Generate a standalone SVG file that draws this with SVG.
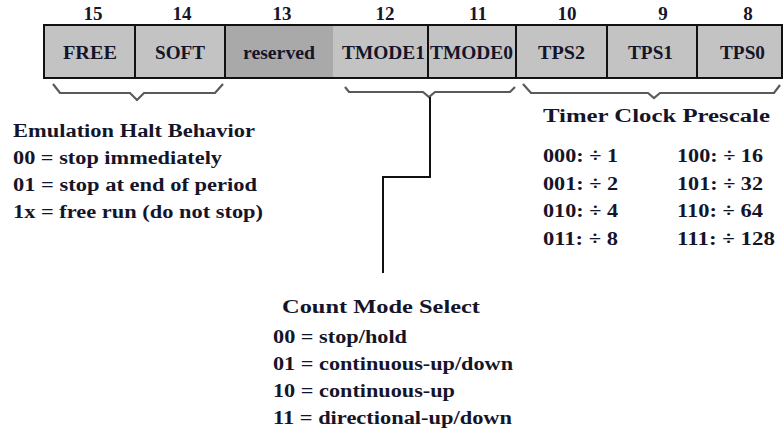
<svg xmlns="http://www.w3.org/2000/svg" width="783" height="432" viewBox="0 0 783 432">
  <style>
    .t { font-family: "Liberation Serif", "Times New Roman", serif; font-weight: bold; fill: #15152a; }
    .bit { font-size: 19px; text-anchor: middle; }
    .fld { font-size: 18px; }
    .txt { font-size: 18px; }
    .cell { fill: #c3c3c3; stroke: none; }
    .rsv { fill: #a9a9a9; stroke: none; }
    .div { stroke: #111; stroke-width: 2; fill: none; }
    .brace { stroke: #5a5a5a; stroke-width: 2.2; fill: none; stroke-linejoin: miter; }
    .lead { stroke: #111; stroke-width: 2; fill: none; }
  </style>
  <rect width="783" height="432" fill="#ffffff"/>

  <!-- bit numbers -->
  <g id="bit-numbers" class="t bit">
    <text x="93" y="20">15</text>
    <text x="182" y="20">14</text>
    <text x="282" y="20">13</text>
    <text x="385" y="20">12</text>
    <text x="478" y="20">11</text>
    <text x="567" y="20">10</text>
    <text x="663" y="20">9</text>
    <text x="748" y="20">8</text>
  </g>

  <!-- register fields -->
  <g id="register">
    <rect class="cell" x="44" y="25" width="738" height="53"/>
    <rect class="rsv" x="225" y="26" width="108" height="51"/>
    <rect class="div" x="44" y="25" width="738" height="53"/>
    <line class="div" x1="135" y1="25" x2="135" y2="78"/>
    <line class="div" x1="225" y1="25" x2="225" y2="78"/>
    <line class="div" x1="428" y1="25" x2="428" y2="78"/>
    <line class="div" x1="516" y1="25" x2="516" y2="78"/>
    <line class="div" x1="607" y1="25" x2="607" y2="78"/>
    <line class="div" x1="697" y1="25" x2="697" y2="78"/>
  </g>
  <g id="field-FREE" class="t fld"><text x="63" y="59" textLength="54" lengthAdjust="spacingAndGlyphs">FREE</text></g>
  <g id="field-SOFT" class="t fld"><text x="155" y="59" textLength="50" lengthAdjust="spacingAndGlyphs">SOFT</text></g>
  <g id="field-reserved" class="t fld"><text x="243" y="59" textLength="72" lengthAdjust="spacingAndGlyphs">reserved</text></g>
  <g id="field-TMODE1" class="t fld"><text x="342" y="59" textLength="83" lengthAdjust="spacingAndGlyphs">TMODE1</text></g>
  <g id="field-TMODE0" class="t fld"><text x="430" y="59" textLength="83" lengthAdjust="spacingAndGlyphs">TMODE0</text></g>
  <g id="field-TPS2" class="t fld"><text x="538" y="59" textLength="47" lengthAdjust="spacingAndGlyphs">TPS2</text></g>
  <g id="field-TPS1" class="t fld"><text x="628" y="59" textLength="45" lengthAdjust="spacingAndGlyphs">TPS1</text></g>
  <g id="field-TPS0" class="t fld"><text x="720" y="59" textLength="45" lengthAdjust="spacingAndGlyphs">TPS0</text></g>

  <!-- braces and leader line -->
  <g id="connectors">
    <path class="brace" d="M53,84 L60,93 L130,93 L137,100 L144,93 L215,93 L223,84"/>
    <path class="brace" d="M345,87 L349,92 L423,92 L429,97 L435,92 L510,92 L515,87"/>
    <path class="brace" d="M523,84 L531,93 L648,93 L654,98 L660,93 L774,93 L780,85"/>
    <path class="lead" d="M430,97 L430,177 L383,177 L383,273"/>
  </g>

  <!-- emulation halt behaviour -->
  <g id="emulation-halt" class="t txt">
    <text x="13" y="137" textLength="242" lengthAdjust="spacingAndGlyphs">Emulation Halt Behavior</text>
    <text x="13" y="164" textLength="209" lengthAdjust="spacingAndGlyphs">00 = stop immediately</text>
    <text x="13" y="191" textLength="244" lengthAdjust="spacingAndGlyphs">01 = stop at end of period</text>
    <text x="13" y="218" textLength="250" lengthAdjust="spacingAndGlyphs">1x = free run (do not stop)</text>
  </g>

  <!-- timer clock prescale -->
  <g id="timer-prescale" class="t txt">
    <text x="543" y="122" textLength="227" lengthAdjust="spacingAndGlyphs">Timer Clock Prescale</text>
    <text x="543" y="162" textLength="75" lengthAdjust="spacingAndGlyphs">000: ÷ 1</text>
    <text x="543" y="190" textLength="75" lengthAdjust="spacingAndGlyphs">001: ÷ 2</text>
    <text x="543" y="217" textLength="75" lengthAdjust="spacingAndGlyphs">010: ÷ 4</text>
    <text x="543" y="245" textLength="75" lengthAdjust="spacingAndGlyphs">011: ÷ 8</text>
    <text x="677" y="162" textLength="86" lengthAdjust="spacingAndGlyphs">100: ÷ 16</text>
    <text x="677" y="190" textLength="86" lengthAdjust="spacingAndGlyphs">101: ÷ 32</text>
    <text x="677" y="217" textLength="86" lengthAdjust="spacingAndGlyphs">110: ÷ 64</text>
    <text x="677" y="245" textLength="98" lengthAdjust="spacingAndGlyphs">111: ÷ 128</text>
  </g>

  <!-- count mode select -->
  <g id="count-mode" class="t txt">
    <text x="282" y="313" textLength="198" lengthAdjust="spacingAndGlyphs">Count Mode Select</text>
    <text x="273" y="343" textLength="134" lengthAdjust="spacingAndGlyphs">00 = stop/hold</text>
    <text x="273" y="370" textLength="240" lengthAdjust="spacingAndGlyphs">01 = continuous-up/down</text>
    <text x="273" y="397" textLength="182" lengthAdjust="spacingAndGlyphs">10 = continuous-up</text>
    <text x="273" y="424" textLength="239" lengthAdjust="spacingAndGlyphs">11 = directional-up/down</text>
  </g>
</svg>
